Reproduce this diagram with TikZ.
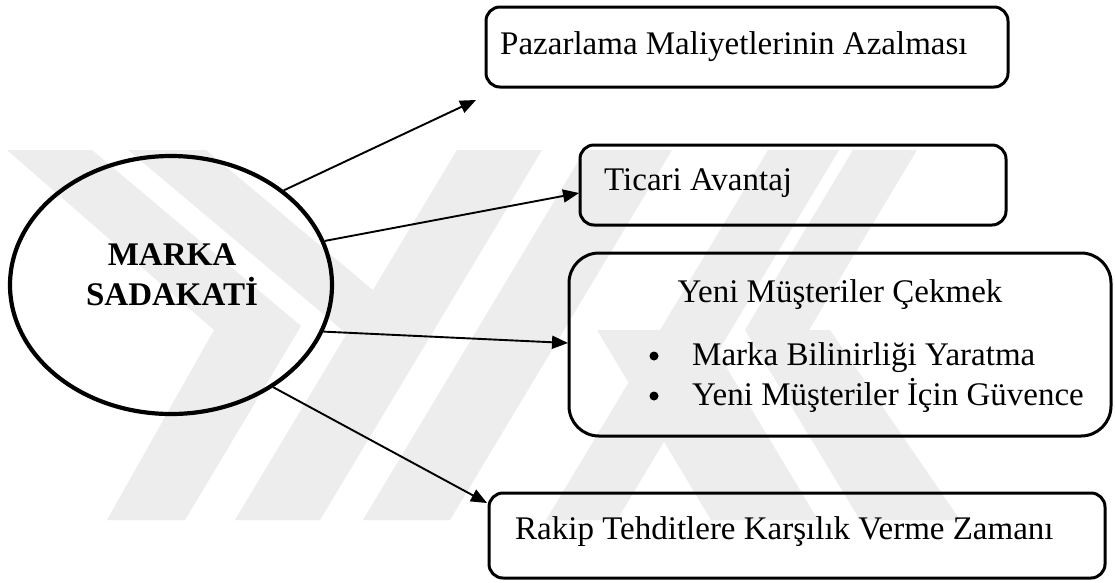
\documentclass[tikz,border=0pt]{standalone}
\usepackage{fontspec}
\setmainfont{Liberation Serif}
\usetikzlibrary{shapes.geometric,arrows.meta,calc}
\tikzset{
  box/.style={draw=black, line width=3pt, rounded corners=14pt, fill=none, inner sep=0pt},
  bigbox/.style={draw=black, line width=3pt, rounded corners=30pt, fill=none, inner sep=0pt},
  txt/.style={font=\fontsize{33}{40}\selectfont, inner sep=0pt, anchor=base west},
  btxt/.style={font=\fontsize{33}{40}\selectfont\bfseries, inner sep=0pt, anchor=base},
  dot/.style={circle, fill=black, minimum size=9pt, inner sep=0pt},
  conn/.style={draw=black, line width=1.9pt, -{Triangle[length=16pt,width=13pt]}},
  wm/.style={fill=black!7, draw=none},
}
\begin{document}
\begin{tikzpicture}[x=1pt,y=-1pt]
\useasboundingbox (0,0) rectangle (1115,582);
\fill[white] (0,0) rectangle (1115,582);
% watermark
\fill[wm] (7,150) -- (92,150) -- (301,326) -- (185,520) -- (107,520) -- (214,330) -- cycle;
\fill[wm] (128,150) -- (206,150) -- (430,338) -- (347,334) -- cycle;
\fill[wm] (235,520) -- (320,520) -- (542,150) -- (457,150) -- cycle;
\fill[wm] (363,520) -- (450,520) -- (672,150) -- (585,150) -- cycle;
\fill[wm] (546,520) -- (617,520) -- (839,150) -- (768,150) -- cycle;
\fill[wm] (597,330) -- (704,330) -- (818,520) -- (711,520) -- cycle;
\fill[wm] (853,150) -- (917,150) -- (809,330) -- (745,330) -- cycle;
\fill[wm] (745,330) -- (830,330) -- (960,520) -- (860,520) -- cycle;
% main
\node[draw, ellipse, line width=4.2pt, minimum width=322pt, minimum height=258pt, inner sep=0pt] (ell) at (171,285) {};
\node[btxt] (ellt1) at (172,265) {MARKA};
\node[btxt] (ellt2) at (172,305) {SADAKATİ};
\node[box, minimum width=522pt, minimum height=80pt] (b1) at (747,47) {};
\node[box, minimum width=426pt, minimum height=80pt] (b2) at (793,185) {};
\node[bigbox, minimum width=542pt, minimum height=183pt] (b3) at (840,344.5) {};
\node[box, minimum width=616pt, minimum height=85pt] (b4) at (797,535.5) {};
\node[txt] (t1) at (500,54) {Pazarlama Maliyetlerinin Azalması};
\node[txt] (t2) at (604,190) {Ticari Avantaj};
\node[txt, anchor=base] (t3) at (840,302) {Yeni Müşteriler Çekmek};
\node[txt] (t3a) at (692,365) {Marka Bilinirliği Yaratma};
\node[txt] (t3b) at (692,405) {Yeni Müşteriler İçin Güvence};
\node[dot] (d1) at (654,356) {};
\node[dot] (d2) at (654,396) {};
\node[txt] (t4) at (515,539) {Rakip Tehditlere Karşılık Verme Zamanı};
% connectors
\coordinate (e1) at (476,100);
\coordinate (e2) at (579,193);
\coordinate (e3) at (568,343);
\coordinate (e4) at (487,503);
\draw[conn] (ell.40.7) -- (e1);
\draw[conn] (ell.16.8) -- (e2);
\draw[conn] (ell.-17) -- (e3);
\draw[conn] (ell.-45) -- (e4);
\end{tikzpicture}
\end{document}
